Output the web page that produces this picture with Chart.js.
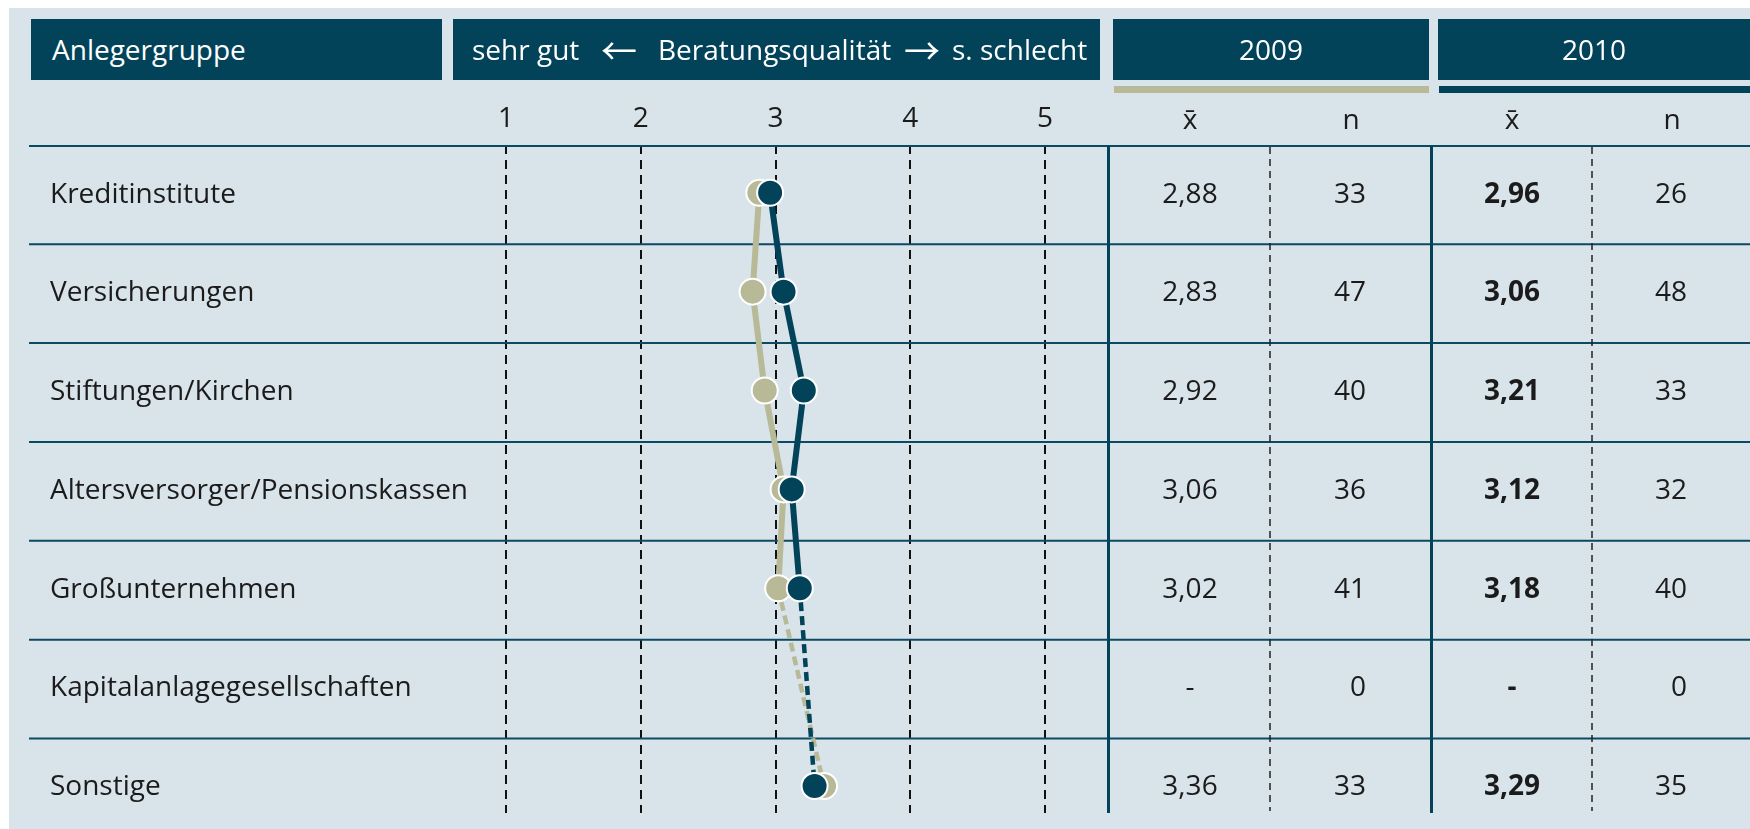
<!DOCTYPE html>
<html><head><meta charset="utf-8">
<script src="https://cdn.jsdelivr.net/npm/chart.js@4.4.1/dist/chart.umd.min.js"></script>
<style>
html,body{margin:0;padding:0;background:#fff;width:1750px;height:829px;overflow:hidden;font-family:"Open Sans",sans-serif;}
#bg{position:absolute;left:9px;top:8px;width:1741px;height:821px;background:#d8e3ea;}
#c{position:absolute;left:0;top:0;}
.box{position:absolute;background:#02435a;color:#fff;font-size:28px;line-height:61px;top:19px;height:61px;white-space:nowrap;}
.ht{position:absolute;top:0;color:#fff;font-size:28px;line-height:61px;white-space:nowrap;}
.arr{position:absolute;top:0;color:#fff;font-family:"Noto Sans CJK JP",sans-serif;font-size:36px;line-height:61px;}
.bar{position:absolute;top:86px;height:7px;}
.t{position:absolute;font-size:28px;color:#1b1b1b;white-space:nowrap;line-height:34px;}
</style></head><body>
<div id="bg"></div>
<canvas id="c" width="1750" height="829"></canvas>
<div id="overlay"></div>
<script>
const categories = ["Kreditinstitute","Versicherungen","Stiftungen/Kirchen","Altersversorger/Pensionskassen","Großunternehmen","Kapitalanlagegesellschaften","Sonstige"];
const mean2009 = [2.88, 2.83, 2.92, 3.06, 3.02, null, 3.36];
const n2009 = [33, 47, 40, 36, 41, 0, 33];
const mean2010 = [2.96, 3.06, 3.21, 3.12, 3.18, null, 3.29];
const n2010 = [26, 48, 33, 32, 40, 0, 35];
const scaleTicks = [1, 2, 3, 4, 5];
const years = ["2009", "2010"];
const columnHeads = ["x\u0304", "n", "x\u0304", "n"];

const DARK = "#02435a", TAN = "#b8b996";
const ov = document.getElementById("overlay");
function el(cls, text, style) {
  const d = document.createElement("div");
  d.className = cls; d.textContent = text;
  Object.assign(d.style, style); ov.appendChild(d); return d;
}
// header boxes
el("box", "", {left:"31px", width:"411px"});
el("ht", "Anlegergruppe", {left:"52px", top:"19px"});
const b2 = el("box", "", {left:"453px", width:"647px"});
[["sehr gut", 472], ["Beratungsqualität", 658], ["s. schlecht", 952]].forEach(([t,x]) => {
  const s = document.createElement("div"); s.className = "ht"; s.textContent = t; s.style.left = (x-453)+"px"; b2.appendChild(s);
});
[["\u2190", 601], ["\u2192", 904]].forEach(([t,x]) => {
  const s = document.createElement("div"); s.className = "arr"; s.textContent = t; s.style.left = (x-453)+"px"; b2.appendChild(s);
});
el("box", years[0], {left:"1113px", width:"316px", textAlign:"center"});
el("box", years[1], {left:"1438px", width:"312px", textAlign:"center"});
el("bar", "", {left:"1114px", width:"315px", background:TAN});
el("bar", "", {left:"1439px", width:"311px", background:DARK});

const rowY = i => 192.7 + i * 98.72;
const colCenters = [1190, 1351, 1512, 1672];
columnHeads.forEach((h, k) => el("t", h, {left:(colCenters[k]-40)+"px", width:"80px", textAlign:"center", top:(119-18)+"px"}));
const fmt = v => v === null ? "-" : v.toFixed(2).replace(".", ",");
categories.forEach((c, i) => {
  const top = (rowY(i) - 18) + "px";
  el("t", c, {left:"50px", top});
  el("t", fmt(mean2009[i]), {left:(1190-60)+"px", width:"120px", textAlign:"center", top});
  el("t", String(n2009[i]), {left:(1366-100)+"px", width:"100px", textAlign:"right", top});
  el("t", fmt(mean2010[i]), {left:(1512-60)+"px", width:"120px", textAlign:"center", top, fontWeight:"700"});
  el("t", String(n2010[i]), {left:(1687-100)+"px", width:"100px", textAlign:"right", top});
});

const tablePlugin = {
  id: "tableLines",
  beforeDatasetsDraw(chart) {
    const ctx = chart.ctx, y = chart.scales.y;
    ctx.save();
    ctx.strokeStyle = "#0b4a62"; ctx.lineWidth = 2;
    const hy = [146];
    for (let i = 0; i < categories.length - 1; i++) hy.push(y.getPixelForValue(i + 0.52));
    hy.forEach(v => { ctx.beginPath(); ctx.moveTo(29, v); ctx.lineTo(1750, v); ctx.stroke(); });
    ctx.strokeStyle = DARK; ctx.lineWidth = 3;
    [1108.5, 1431.5].forEach(x => { ctx.beginPath(); ctx.moveTo(x, 146); ctx.lineTo(x, 813); ctx.stroke(); });
    ctx.strokeStyle = "#222"; ctx.lineWidth = 1.5; ctx.setLineDash([7, 5]);
    [1270, 1592].forEach(x => { ctx.beginPath(); ctx.moveTo(x, 147); ctx.lineTo(x, 811); ctx.stroke(); });
    ctx.restore();
  }
};

const gapDash = (ctx, v) => (ctx.p0.skip || ctx.p1.skip) ? v : undefined;
function ds(label, vals, color, order) {
  return {
    label, order,
    data: vals.map((v, i) => ({x: v, y: i})),
    borderColor: color, backgroundColor: color,
    borderWidth: 6, pointRadius: 13, pointHoverRadius: 13,
    pointBorderWidth: 2, pointBorderColor: "#ffffff", pointBackgroundColor: color,
    spanGaps: true, clip: false,
    segment: { borderDash: c => gapDash(c, [9, 5]), borderWidth: c => gapDash(c, 4.5) }
  };
}

new Chart(document.getElementById("c"), {
  type: "line",
  data: { datasets: [ ds(years[0], mean2009, TAN, 2), ds(years[1], mean2010, DARK, 1) ] },
  options: {
    responsive: false, animation: false, devicePixelRatio: 1, indexAxis: "y",
    layout: { padding: { left: 452, right: 651, top: 0, bottom: 16 } },
    plugins: { legend: { display: false }, tooltip: { enabled: false } },
    scales: {
      x: {
        type: "linear", position: "top", min: 0.6, max: 5.4,
        afterBuildTicks: s => { s.ticks = scaleTicks.map(v => ({value: v})); },
        afterFit: s => { s.height = 145; },
        grid: { color: "#111", lineWidth: 2, drawTicks: false },
        border: { display: false, dash: [9, 6] },
        ticks: { padding: 9, color: "#1b1b1b", font: { family: "Open Sans", size: 28 } }
      },
      y: { type: "linear", reverse: true, min: -0.483, max: 6.273, display: false }
    }
  },
  plugins: [tablePlugin]
});
</script>
</body></html>
